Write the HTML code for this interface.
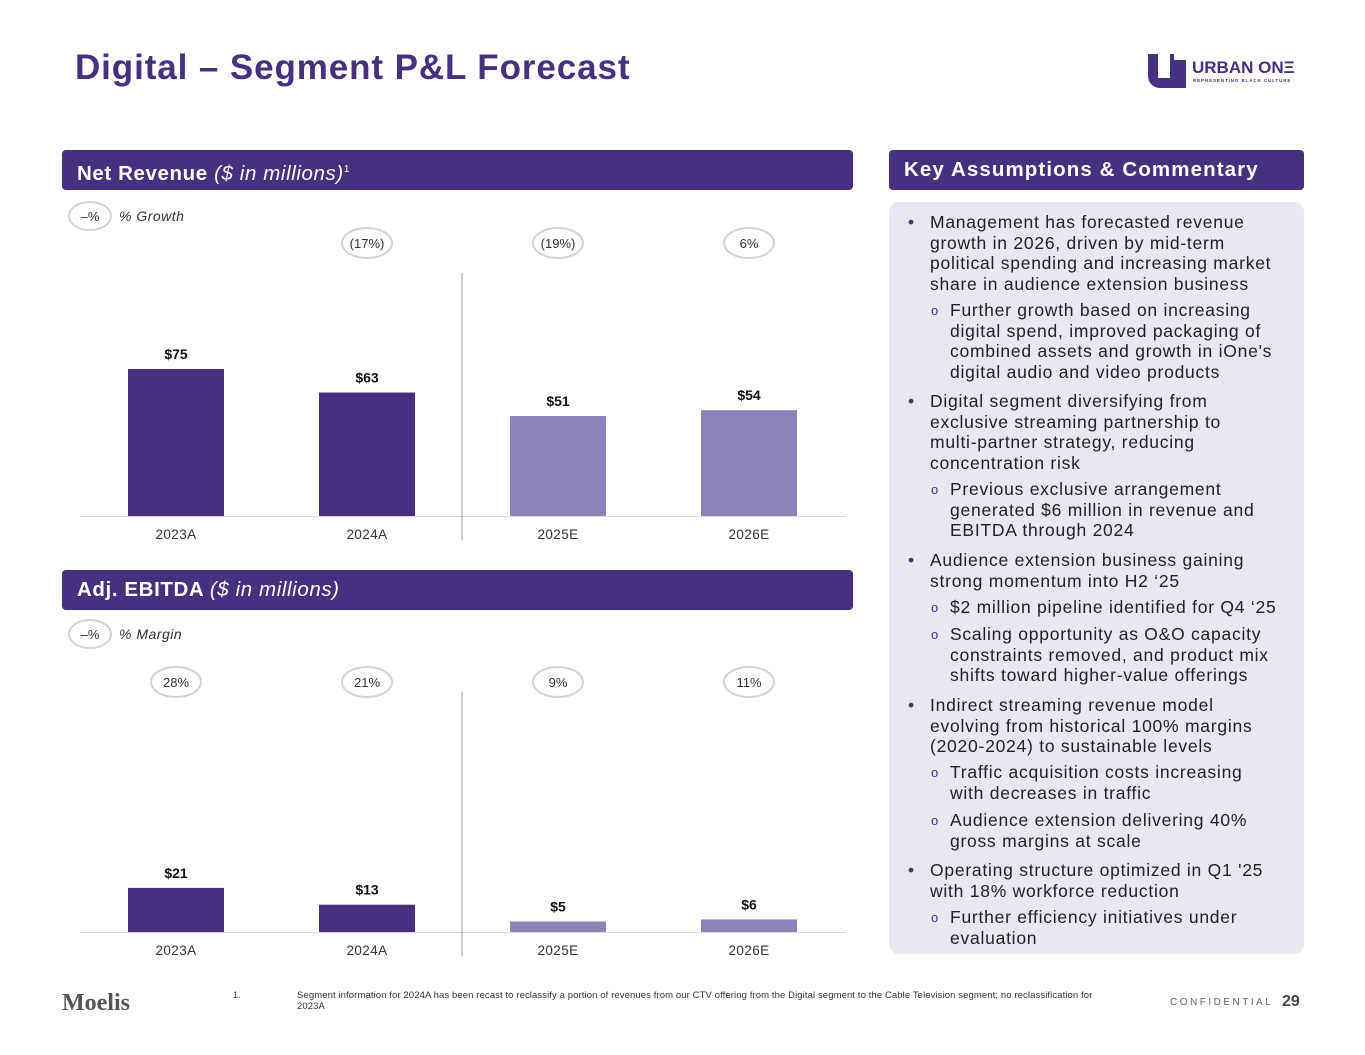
<!DOCTYPE html>
<html><head><meta charset="utf-8"><style>
*{margin:0;padding:0;box-sizing:border-box}
body{width:1365px;height:1055px;background:#fff;font-family:"Liberation Sans",sans-serif;position:relative;overflow:hidden;color:#222}
.abs{position:absolute}
.hdr{position:absolute;background:#45317e;color:#fff;border-radius:4px;font-size:20.5px;font-weight:bold;padding-left:15px;line-height:40px;height:40px;letter-spacing:0.6px;white-space:nowrap}
.blk{position:absolute;font-size:17.5px;line-height:20.7px;color:#222;letter-spacing:0.75px;white-space:nowrap}
.bl{left:930px}
.sb{left:950px}
.dot{position:absolute;left:-22px;top:0;color:#45317e}
.o{position:absolute;left:-19px;top:1px;color:#45317e;font-size:13px}
</style></head><body>
<div class="abs" style="left:75px;top:48px;font-size:35px;font-weight:bold;color:#45317e;letter-spacing:0.9px;white-space:nowrap">Digital – Segment P&amp;L Forecast</div>
<div class="abs" style="left:1148px;top:50px;width:160px;height:40px">
<div style="position:absolute;left:0;top:4px;width:38px;height:34px;background:#45317e;border-radius:0 0 0 12px"></div>
<div style="position:absolute;left:10px;top:4px;width:12px;height:24px;background:#fff"></div>
<div style="position:absolute;left:26px;top:0;width:12px;height:10px;background:#fff"></div>
<div style="position:absolute;left:44px;top:8px;font-size:17px;font-weight:bold;color:#45317e;white-space:nowrap">URBAN ONΞ</div>
<div style="position:absolute;left:45px;top:28px;font-size:4.5px;font-weight:bold;color:#45317e;letter-spacing:0.9px;white-space:nowrap">REPRESENTING BLACK CULTURE</div>
</div>

<div class="hdr" style="left:62px;top:150px;width:791px">Net Revenue <i style="font-weight:normal">($ in millions)</i><sup style="font-size:10px;font-weight:normal">1</sup></div>
<div class="hdr" style="left:62px;top:570px;width:791px">Adj. EBITDA <i style="font-weight:normal">($ in millions)</i></div>
<div class="hdr" style="left:889px;top:150px;width:415px;letter-spacing:1.1px">Key Assumptions &amp; Commentary</div>

<svg class="abs" style="left:0;top:0" width="880" height="980" id="charts"></svg>

<div class="abs" style="left:889px;top:202px;width:415px;height:752px;background:#e9e7f2;border-radius:10px"></div>
<div class="blk bl" style="top:212px"><span class="dot">•</span>Management has forecasted revenue<br>growth in 2026, driven by mid-term<br>political spending and increasing market<br>share in audience extension business</div>
<div class="blk sb" style="top:300px"><span class="o">o</span>Further growth based on increasing<br>digital spend, improved packaging of<br>combined assets and growth in iOne's<br>digital audio and video products</div>
<div class="blk bl" style="top:391px"><span class="dot">•</span>Digital segment diversifying from<br>exclusive streaming partnership to<br>multi-partner strategy, reducing<br>concentration risk</div>
<div class="blk sb" style="top:479px"><span class="o">o</span>Previous exclusive arrangement<br>generated $6 million in revenue and<br>EBITDA through 2024</div>
<div class="blk bl" style="top:550px"><span class="dot">•</span>Audience extension business gaining<br>strong momentum into H2 ‘25</div>
<div class="blk sb" style="top:597px"><span class="o">o</span>$2 million pipeline identified for Q4 ‘25</div>
<div class="blk sb" style="top:624px"><span class="o">o</span>Scaling opportunity as O&amp;O capacity<br>constraints removed, and product mix<br>shifts toward higher-value offerings</div>
<div class="blk bl" style="top:695px"><span class="dot">•</span>Indirect streaming revenue model<br>evolving from historical 100% margins<br>(2020-2024) to sustainable levels</div>
<div class="blk sb" style="top:762px"><span class="o">o</span>Traffic acquisition costs increasing<br>with decreases in traffic</div>
<div class="blk sb" style="top:810px"><span class="o">o</span>Audience extension delivering 40%<br>gross margins at scale</div>
<div class="blk bl" style="top:860px"><span class="dot">•</span>Operating structure optimized in Q1 '25<br>with 18% workforce reduction</div>
<div class="blk sb" style="top:907px"><span class="o">o</span>Further efficiency initiatives under<br>evaluation</div>

<div class="abs" style="left:62px;top:990px;font-family:'Liberation Serif',serif;font-size:24px;font-weight:bold;color:#555">Moelis</div>
<div class="abs" style="left:233px;top:990px;font-size:9px;color:#333">1.</div>
<div class="abs" style="left:297px;top:990px;width:810px;font-size:9.5px;line-height:11px;color:#333;letter-spacing:0.1px">Segment information for 2024A has been recast to reclassify a portion of revenues from our CTV offering from the Digital segment to the Cable Television segment; no reclassification for 2023A</div>
<div class="abs" style="left:1170px;top:997px;font-size:10px;letter-spacing:2.5px;color:#666">CONFIDENTIAL</div>
<div class="abs" style="left:1282px;top:993px;font-size:16px;font-weight:bold;color:#444">29</div>

<script>
const categories=["2023A","2024A","2025E","2026E"];
const revenue=[75,63,51,54];
const growthLabels=["","(17%)","(19%)","6%"];
const ebitda=[21,13,5,6];
const marginLabels=["28%","21%","9%","11%"];
const isForecast=[false,false,true,true];
const svg=document.getElementById('charts');
const NS="http://www.w3.org/2000/svg";
function mk(tag,attrs,text){const e=document.createElementNS(NS,tag);for(const k in attrs)e.setAttribute(k,attrs[k]);if(text!==undefined)e.textContent=text;svg.appendChild(e);return e;}
function xCenter(i){return 176+i*191;}
function drawChart(vals,labels,base,scale,ovalY,legendY,legendText,divTop,prefix){
  const yv=v=>base-v*scale;
  let e;
  e=mk('ellipse',{cx:90,cy:legendY,rx:21,ry:14,fill:'none',stroke:'#d4d4d4','stroke-width':2});
  
  e=mk('text',{x:90,y:legendY+5,'text-anchor':'middle','font-size':13,fill:'#333'},'–%');
  
  e=mk('text',{x:119,y:legendY+5,'font-size':14,'font-style':'italic',fill:'#333','letter-spacing':0.5},legendText);
  
  e=mk('line',{x1:80,x2:846,y1:base+0.5,y2:base+0.5,stroke:'#d9d9d9','stroke-width':1});
  
  e=mk('line',{x1:462,x2:462,y1:divTop,y2:base+24,stroke:'#aaa','stroke-width':1.2});
  
  vals.forEach((v,i)=>{
    const cx=xCenter(i);
    e=mk('rect',{x:cx-48,y:yv(v),width:96,height:v*scale,fill:isForecast[i]?'#8a84bb':'#45317e'});
    
    e=mk('text',{x:cx,y:yv(v)-10,'text-anchor':'middle','font-size':14,'font-weight':'bold',fill:'#111'},'$'+v);
    
    e=mk('text',{x:cx,y:base+23,'text-anchor':'middle','font-size':13.5,fill:'#333','letter-spacing':0.4},categories[i]);
    
    if(labels[i]){
      e=mk('ellipse',{cx:cx,cy:ovalY,rx:25,ry:15,fill:'none',stroke:'#d4d4d4','stroke-width':2});
      
      e=mk('text',{x:cx,y:ovalY+5,'text-anchor':'middle','font-size':13,fill:'#333'},labels[i]);
      
    }
  });
}
drawChart(revenue,growthLabels,516,1.96,243,216,'% Growth',273,'revenue');
drawChart(ebitda,marginLabels,932,2.1,682,634,'% Margin',692,'ebitda');
</script>
</body></html>
